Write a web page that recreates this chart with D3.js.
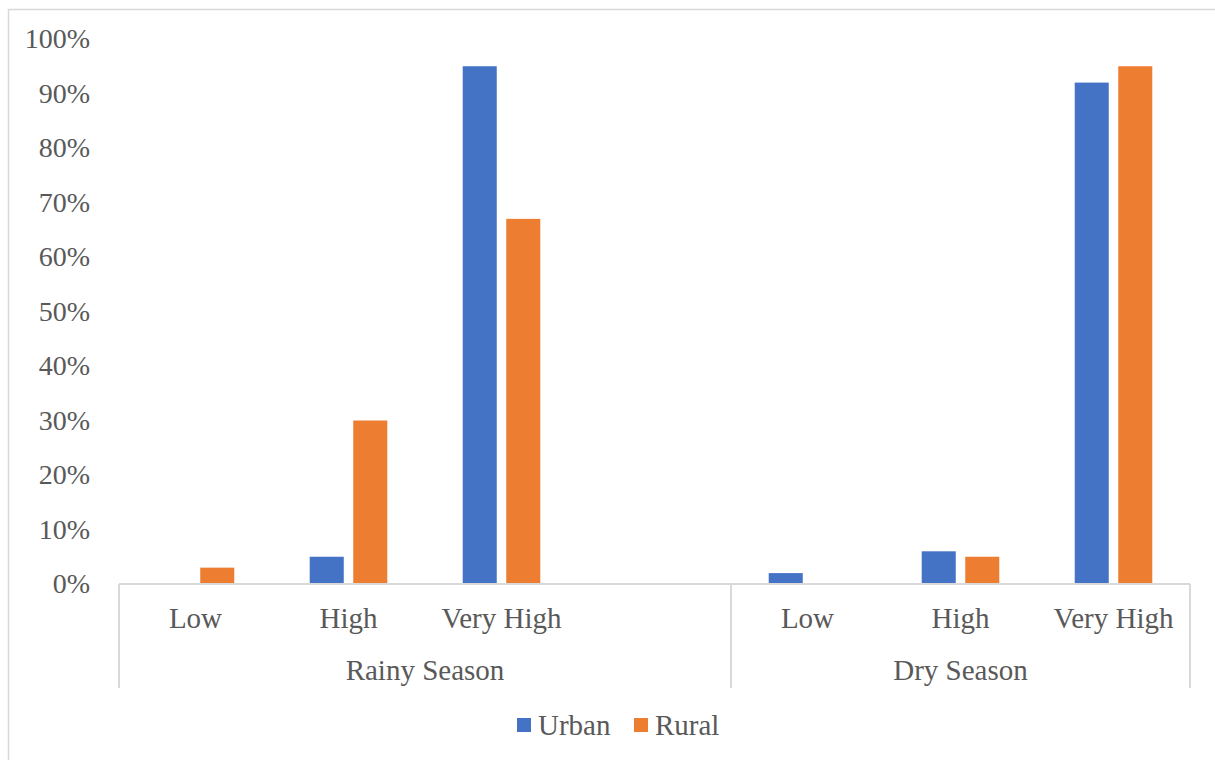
<!DOCTYPE html>
<html>
<head>
<meta charset="utf-8">
<script src="https://cdn.jsdelivr.net/npm/d3@7"></script>
<style>
  html, body { margin: 0; padding: 0; background: #fff; }
  svg { display: block; }
  text { font-family: "Liberation Serif", "Times New Roman", serif; fill: #595959; }
</style>
</head>
<body>
<svg id="chart" width="1215" height="760"></svg>
<script>
// Category slots along the x axis (blank slot keeps the seasons apart)
const categories = ["Low", "High", "Very High", "", "Low", "High", "Very High"];
// Season groups and how many slots each one spans
const seasons = ["Rainy Season", "Dry Season"];
const seasonSpans = [4, 3];
// Series
const seriesNames = ["Urban", "Rural"];
const seriesColors = ["#4472C4", "#ED7D31"];
const urban = [0, 0.05, 0.95, null, 0.02, 0.06, 0.92];
const rural = [0.03, 0.30, 0.67, null, 0, 0.05, 0.95];
// Axis ticks
const yTicks = [0, 0.1, 0.2, 0.3, 0.4, 0.5, 0.6, 0.7, 0.8, 0.9, 1.0];

const svg = d3.select("#chart");
const gridColor = "#d9d9d9";
const plot = { left: 119, right: 1190, top: 39, bottom: 584 };

// Chart area border
svg.append("rect")
  .attr("x", 8.5).attr("y", 9.5)
  .attr("width", 1300).attr("height", 900)
  .attr("fill", "none").attr("stroke", gridColor).attr("stroke-width", 1.5);

const x = d3.scaleBand()
  .domain(d3.range(categories.length))
  .range([plot.left, plot.right])
  .padding(0);

const bw = x.bandwidth();
const xs = d3.scaleBand()
  .domain(seriesNames)
  .range([bw * 0.2465, bw * 0.7535])
  .paddingInner(0.218)
  .paddingOuter(0);

const y = d3.scaleLinear().domain([0, 1]).range([plot.bottom, plot.top]);

// Y axis labels
const yAxis = d3.axisLeft(y)
  .tickValues(yTicks)
  .tickFormat(d3.format(".0%"))
  .tickSize(0)
  .tickPadding(0);
const gy = svg.append("g")
  .attr("transform", `translate(${plot.left - 29},0)`)
  .call(yAxis);
gy.select(".domain").remove();
gy.selectAll("text")
  .attr("font-size", 28)
  .attr("fill", "#595959")
  .style("font-family", '"Liberation Serif", "Times New Roman", serif');

// Bars
const seriesData = [urban, rural];
seriesData.forEach((vals, si) => {
  svg.append("g")
    .selectAll("rect")
    .data(vals.map((v, i) => ({ v, i })).filter(d => d.v !== null && d.v > 0))
    .join("rect")
    .attr("x", d => x(d.i) + xs(seriesNames[si]))
    .attr("width", xs.bandwidth())
    .attr("y", d => y(d.v))
    .attr("height", d => y(0) - y(d.v))
    .attr("fill", seriesColors[si]);
});

// Category axis baseline
svg.append("line")
  .attr("x1", plot.left).attr("x2", plot.right)
  .attr("y1", plot.bottom).attr("y2", plot.bottom)
  .attr("stroke", gridColor).attr("stroke-width", 2);

// Category labels
svg.append("g")
  .selectAll("text")
  .data(categories)
  .join("text")
  .attr("x", (d, i) => x(i) + bw / 2)
  .attr("y", 628)
  .attr("text-anchor", "middle")
  .attr("font-size", 29)
  .text(d => d);

// Season separators and labels
let start = 0;
const bounds = [0];
seasonSpans.forEach(s => { start += s; bounds.push(start); });
svg.append("g")
  .selectAll("line")
  .data(bounds)
  .join("line")
  .attr("x1", d => d < categories.length ? x(d) : plot.right)
  .attr("x2", d => d < categories.length ? x(d) : plot.right)
  .attr("y1", plot.bottom)
  .attr("y2", 688)
  .attr("stroke", gridColor).attr("stroke-width", 2);

svg.append("g")
  .selectAll("text")
  .data(seasons)
  .join("text")
  .attr("x", (d, i) => {
    const a = x(bounds[i]);
    const b = bounds[i + 1] < categories.length ? x(bounds[i + 1]) : plot.right;
    return (a + b) / 2;
  })
  .attr("y", 680)
  .attr("text-anchor", "middle")
  .attr("font-size", 29)
  .text(d => d);

// Legend
const legend = svg.append("g").attr("transform", "translate(517,725)");
const legendX = [0, 117];
seriesNames.forEach((name, i) => {
  const g = legend.append("g").attr("transform", `translate(${legendX[i]},0)`);
  g.append("rect")
    .attr("x", 0).attr("y", -7)
    .attr("width", 14).attr("height", 14)
    .attr("fill", seriesColors[i]);
  g.append("text")
    .attr("x", 21).attr("y", 10)
    .attr("font-size", 29)
    .text(name);
});
</script>
</body>
</html>
